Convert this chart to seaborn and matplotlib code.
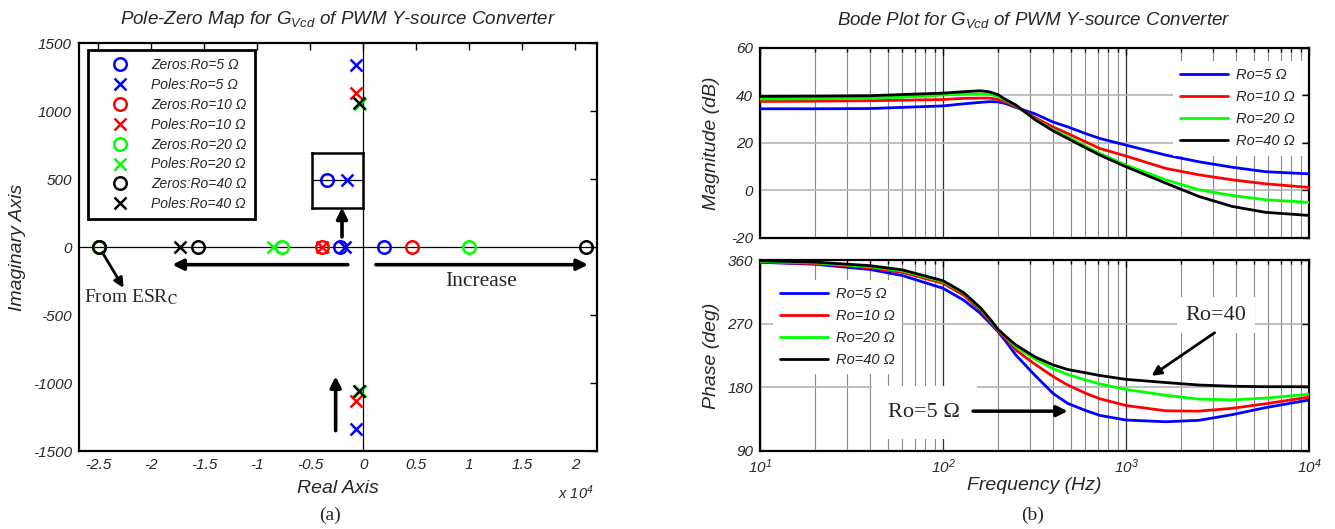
import numpy as np
import pandas as pd
import matplotlib
matplotlib.use('Agg')
import matplotlib.pyplot as plt
import seaborn as sns

# ---- pole-zero map data (real part / imaginary part) ----
ro_names = ['5', '10', '20', '40']
ro_colors = ['#0000ff', '#ff0000', '#00ff00', '#000000']

zeros_re_5 = [-24900, -2200, 2000]
zeros_re_10 = [-24900, -3900, 4600]
zeros_re_20 = [-24900, -7700, 10000]
zeros_re_40 = [-24900, -15600, 21000]

poles_re_5 = [-1700, -660, -660]
poles_im_5 = [0, 1335, -1335]
poles_re_10 = [-3900, -660, -660]
poles_im_10 = [0, 1135, -1135]
poles_re_20 = [-8500, -300, -300]
poles_im_20 = [0, 1055, -1055]
poles_re_40 = [-17300, -440, -440]
poles_im_40 = [0, 1062, -1062]

pz_xticks = [-25000, -20000, -15000, -10000, -5000, 0, 5000, 10000, 15000, 20000]
pz_xticklabels = ['-2.5', '-2', '-1.5', '-1', '-0.5', '0', '0.5', '1', '1.5', '2']
pz_yticks = [-1500, -1000, -500, 0, 500, 1000, 1500]

# ---- bode data ----
freq_hz = [10, 20, 40, 60, 100, 130, 160, 180, 200, 220, 250, 320, 400, 480, 600, 720,
           1000, 1650, 2500, 3800, 5800, 10000]
mag_5 = [34.4, 34.4, 34.5, 35.0, 35.6, 36.5, 37.1, 37.4, 37.3, 36.6, 35.0, 32.2, 28.8, 26.8,
         24.0, 21.9, 19.1, 14.9, 12.1, 9.8, 7.9, 7.0]
mag_10 = [37.5, 37.6, 37.8, 38.0, 38.3, 38.8, 38.9, 38.9, 38.3, 37.2, 35.4, 30.6, 26.7, 24.0,
          20.5, 17.7, 14.5, 9.3, 6.6, 4.5, 2.8, 1.3]
mag_20 = [38.5, 38.6, 38.9, 39.3, 40.2, 40.6, 40.7, 40.5, 39.6, 37.9, 35.8, 29.9, 25.6, 22.6,
          18.7, 15.6, 10.7, 4.5, 0.3, -2.1, -3.9, -5.0]
mag_40 = [39.6, 39.7, 39.9, 40.4, 41.0, 41.6, 42.0, 41.5, 40.3, 38.3, 36.0, 29.7, 25.1, 21.9,
          18.0, 14.9, 10.0, 3.1, -2.5, -6.7, -9.2, -10.5]

phase_5 = [356.7, 354, 346.5, 338, 320, 303, 284.5, 271, 258.5, 245, 225.5, 196, 171, 157,
           147, 140, 133.4, 131, 133, 141, 151, 161.8]
phase_10 = [357, 355, 349, 342.5, 327, 310, 289, 274, 260, 249, 232.6, 212, 195, 183,
            171.5, 163.5, 154, 146.5, 146, 150, 156.5, 165.9]
phase_20 = [358, 356, 350.5, 344.5, 329.3, 312.8, 291.5, 276, 261, 251, 237, 219.5, 206, 198,
            190.2, 184.5, 176.7, 168.5, 163, 162, 164.5, 170]
phase_40 = [359, 357, 352, 346, 330.7, 313.7, 292.5, 277, 261.8, 252, 239.7, 222.5, 211.4, 205,
            200.3, 196.5, 191, 186.5, 183, 181.3, 180.6, 180.6]

sns.set_style('white')
plt.rcParams['font.family'] = ['Liberation Sans', 'DejaVu Sans']
plt.rcParams['axes.unicode_minus'] = False
plt.rcParams['mathtext.fontset'] = 'custom'
plt.rcParams['mathtext.it'] = 'Liberation Sans:italic'
plt.rcParams['mathtext.rm'] = 'Liberation Sans:italic'
plt.rcParams['mathtext.sf'] = 'Liberation Sans:italic'

fig = plt.figure(figsize=(13.35, 5.29), dpi=100)

ax_pz = fig.add_axes([0.0592, 0.1474, 0.3880, 0.7713])
ax_mag = fig.add_axes([0.5693, 0.5501, 0.4112, 0.3592])
ax_ph = fig.add_axes([0.5693, 0.1480, 0.4112, 0.3605])

serif = 'Liberation Serif'


def style_axes(ax):
    for sp in ax.spines.values():
        sp.set_linewidth(1.6)
        sp.set_color('black')
    ax.tick_params(which='both', direction='in', top=True, right=True,
                   labelsize=11, width=1, color='black', pad=5)
    ax.tick_params(which='major', length=5)
    ax.tick_params(which='minor', length=3)


# ================= pole-zero map =================
ax_pz.axhline(0, color='black', lw=0.9, zorder=1)
ax_pz.axvline(0, color='black', lw=0.9, zorder=1)

zeros_all = [zeros_re_5, zeros_re_10, zeros_re_20, zeros_re_40]
poles_all = [(poles_re_5, poles_im_5), (poles_re_10, poles_im_10),
             (poles_re_20, poles_im_20), (poles_re_40, poles_im_40)]
for name, col, zr, (pr, pi) in zip(ro_names, ro_colors, zeros_all, poles_all):
    ax_pz.plot(zr, [0] * len(zr), ls='none', marker='o', ms=9, mfc='none',
               mec=col, mew=1.8, label=f'Zeros:Ro={name} \u03a9', zorder=3)
    ax_pz.plot(pr, pi, ls='none', marker='x', ms=8, mec=col, mew=1.8,
               label=f'Poles:Ro={name} \u03a9', zorder=3)

ax_pz.set_xlim(-26800, 22050)
ax_pz.set_ylim(-1500, 1500)
ax_pz.set_xticks(pz_xticks, labels=pz_xticklabels)
ax_pz.set_yticks(pz_yticks, labels=[str(v) for v in pz_yticks])
style_axes(ax_pz)
ax_pz.set_xlabel('Real Axis', fontsize=14, fontstyle='italic')
ax_pz.set_ylabel('Imaginary Axis', fontsize=14, fontstyle='italic')
ax_pz.xaxis.set_label_coords(0.5, -0.072)
ax_pz.yaxis.set_label_coords(-0.102, 0.5)

leg = ax_pz.legend(loc='upper left', bbox_to_anchor=(0.017, 0.983), borderaxespad=0,
                   prop={'style': 'italic', 'size': 10}, frameon=True, fancybox=False,
                   edgecolor='black', numpoints=1, handlelength=3.5,
                   handletextpad=0.45, labelspacing=0.42, borderpad=0.6)
leg.get_frame().set_linewidth(2)
leg.get_frame().set_alpha(1)

# zoomed inset around the Ro=5 zero/pole near origin
ins = ax_pz.inset_axes([-4800, 290, 4800, 403], transform=ax_pz.transData)
ins.axhline(0, color='black', lw=0.9)
ins.plot([zeros_re_5[1]], [0], ls='none', marker='o', ms=9, mfc='none', mec=ro_colors[0], mew=1.8)
ins.plot([poles_re_5[0]], [0], ls='none', marker='x', ms=8, mec=ro_colors[0], mew=1.8)
ins.set_xlim(-2570, -1290)
ins.set_ylim(-1, 1)
ins.set_xticks([])
ins.set_yticks([])
for sp in ins.spines.values():
    sp.set_linewidth(1.8)
    sp.set_color('black')

arrow = dict(arrowstyle='-|>', lw=2.6, color='black', mutation_scale=16, shrinkA=0, shrinkB=0)
ax_pz.annotate('', xy=(-2000, 290), xytext=(-2000, 75), arrowprops=arrow)
ax_pz.annotate('', xy=(-18000, -130), xytext=(-1450, -130), arrowprops=arrow)
ax_pz.annotate('', xy=(21200, -130), xytext=(1200, -130), arrowprops=arrow)
ax_pz.annotate('', xy=(-2600, -950), xytext=(-2600, -1350), arrowprops=arrow)
ax_pz.annotate('', xy=(-22600, -300), xytext=(-24600, -40),
               arrowprops=dict(arrowstyle='-|>', lw=2, color='black', mutation_scale=14,
                               shrinkA=0, shrinkB=0))
ax_pz.text(11100, -255, 'Increase', fontsize=15.5, family=serif, ha='center', va='center')
ax_pz.text(-26300, -370, r'From ESR$_{\rm C}$', fontsize=14, family=serif,
           math_fontfamily='stix', ha='left', va='center', clip_on=False)

for lab in ax_pz.get_xticklabels() + ax_pz.get_yticklabels():
    lab.set_fontstyle('italic')

fig.text(576 / 1335, 1 - 493 / 529, r'x $10^4$', fontsize=10.5, fontstyle='italic',
         ha='center', va='center')

# ================= bode plot =================
n = len(freq_hz)
bode = pd.DataFrame({
    'freq': freq_hz * 4,
    'mag': mag_5 + mag_10 + mag_20 + mag_40,
    'phase': phase_5 + phase_10 + phase_20 + phase_40,
    'Ro': sum([[f'Ro={r} \u03a9'] * n for r in ro_names], []),
})
labels = [f'Ro={r} \u03a9' for r in ro_names]
pal = dict(zip(labels, ro_colors))

for ax in (ax_mag, ax_ph):
    ax.set_xscale('log')

sns.lineplot(data=bode, x='freq', y='mag', hue='Ro', palette=pal, hue_order=labels,
             lw=2, legend=False, sort=False, ax=ax_mag, zorder=3)
sns.lineplot(data=bode, x='freq', y='phase', hue='Ro', palette=pal, hue_order=labels,
             lw=2, legend=False, sort=False, ax=ax_ph, zorder=3)

for ax in (ax_mag, ax_ph):
    ax.set_xlim(10, 10000)
    ax.grid(True, which='minor', axis='x', color='#8a8a8a', lw=0.8)
    ax.grid(True, which='major', axis='x', color='#303030', lw=0.9)
    ax.grid(True, which='major', axis='y', color='#b4b4b4', lw=1.2)
    ax.set_axisbelow(True)
    style_axes(ax)

ax_mag.set_ylim(-20, 60)
ax_mag.set_yticks([-20, 0, 20, 40, 60])
ax_mag.set_xticks([10, 100, 1000, 10000], labels=['', '', '', ''])
ax_mag.set_xlabel('')
ax_mag.set_ylabel('Magnitude (dB)', fontsize=14, fontstyle='italic')
ax_mag.yaxis.set_label_coords(-0.072, 0.5)

ax_ph.set_ylim(90, 360)
ax_ph.set_yticks([90, 180, 270, 360])
ax_ph.set_xticks([10, 100, 1000, 10000],
                 labels=[r'$10^{1}$', r'$10^{2}$', r'$10^{3}$', r'$10^{4}$'])
ax_ph.set_xlabel('Frequency (Hz)', fontsize=14, fontstyle='italic')
ax_ph.set_ylabel('Phase (deg)', fontsize=14, fontstyle='italic')
ax_ph.xaxis.set_label_coords(0.5, -0.14)
ax_ph.yaxis.set_label_coords(-0.072, 0.5)

for ax in (ax_mag, ax_ph):
    for lab in ax.get_xticklabels() + ax.get_yticklabels():
        lab.set_fontstyle('italic')

leg_kw = dict(prop={'style': 'italic', 'size': 10.5}, frameon=True, facecolor='white',
              edgecolor='none', framealpha=1, fancybox=False, handlelength=3.3,
              handletextpad=0.5, labelspacing=0.55, borderpad=0.5)
ax_mag.legend(ax_mag.get_lines()[:4], labels, loc='upper right',
              bbox_to_anchor=(1.0, 0.97), **leg_kw)
ax_ph.legend(ax_ph.get_lines()[:4], labels, loc='upper left',
             bbox_to_anchor=(0.01, 0.935), **leg_kw)

ax_ph.text(3100, 282, 'Ro=40', fontsize=16, family=serif, ha='center', va='center',
           bbox=dict(facecolor='white', edgecolor='none', pad=6), zorder=4)
ax_ph.annotate('', xy=(1380, 196), xytext=(3050, 257),
               arrowprops=dict(arrowstyle='-|>', lw=2, color='black', mutation_scale=14,
                               shrinkA=0, shrinkB=0), zorder=5)
ax_ph.text(79, 144, 'Ro=5 \u03a9', fontsize=16, family=serif, ha='center', va='center',
           bbox=dict(facecolor='white', edgecolor='none', pad=12), zorder=4)
ax_ph.annotate('', xy=(480, 146), xytext=(146, 146),
               arrowprops=dict(arrowstyle='-|>', lw=2.5, color='black', mutation_scale=16,
                               shrinkA=0, shrinkB=0), zorder=5)

# ================= titles and captions =================
fig.text(338 / 1335, 1 - 20 / 529, r'Pole-Zero Map for $G_{Vcd}$ of PWM Y-source Converter',
         fontsize=13.5, fontstyle='italic', ha='center', va='center')
fig.text(1034 / 1335, 1 - 20 / 529, r'Bode Plot for $G_{Vcd}$ of PWM Y-source Converter',
         fontsize=13.5, fontstyle='italic', ha='center', va='center')
fig.text(330 / 1335, 1 - 515 / 529, '(a)', fontsize=14, family=serif, ha='center', va='center')
fig.text(1033 / 1335, 1 - 515 / 529, '(b)', fontsize=14, family=serif, ha='center', va='center')

fig.savefig('out.png', dpi=100)
